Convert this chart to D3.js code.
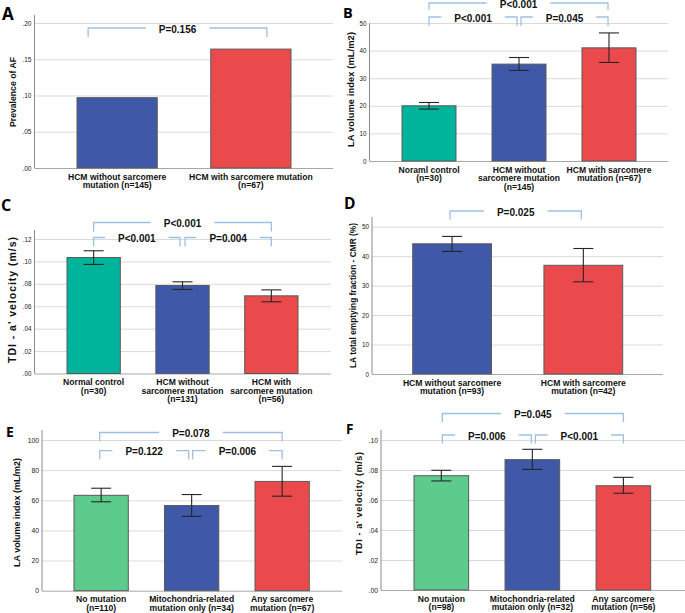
<!DOCTYPE html>
<html><head><meta charset="utf-8">
<script src="https://cdn.jsdelivr.net/npm/d3@7"></script>
<style>
html,body{margin:0;padding:0;background:#fff;}
svg{display:block;font-family:"Liberation Sans",Arial,sans-serif;}
</style></head>
<body><svg id="chart" width="685" height="613"></svg>
<script>
// ---------- DATA ----------
// Panel A
const catsA = [["HCM without sarcomere","mutation (n=145)"],["HCM with sarcomere mutation","(n=67)"]];
const valsA = [0.097, 0.164];
const ticksA = [0, 0.05, 0.10, 0.15, 0.20];
const tickLabelsA = [".00", ".05", ".10", ".15", ".20"];
const pLabelsA = ["P=0.156"];
// Panel B
const catsB = [["Noraml control","(n=30)"],["HCM without","sarcomere mutation","(n=145)"],["HCM with sarcomere","mutation (n=67)"]];
const valsB = [20.0, 35.1, 41.0];
const errLowB = [18.8, 32.8, 35.7];
const errHighB = [21.2, 37.5, 46.4];
const ticksB = [0, 10, 20, 30, 40, 50];
const tickLabelsB = ["0", "10", "20", "30", "40", "50"];
const pLabelsB = ["P<0.001", "P<0.001", "P=0.045"];
// Panel C
const catsC = [["Normal control","(n=30)"],["HCM without","sarcomere mutation","(n=131)"],["HCM with","sarcomere mutation","(n=56)"]];
const valsC = [0.1035, 0.0785, 0.0693];
const errLowC = [0.0973, 0.0750, 0.0640];
const errHighC = [0.1095, 0.0818, 0.0746];
const ticksC = [0, 0.02, 0.04, 0.06, 0.08, 0.10, 0.12];
const tickLabelsC = [".00", ".02", ".04", ".06", ".08", ".10", ".12"];
const pLabelsC = ["P<0.001", "P<0.001", "P=0.004"];
// Panel D
const catsD = [["HCM without sarcomere","mutation (n=93)"],["HCM with sarcomere","mutation (n=42)"]];
const valsD = [44.2, 36.9];
const errLowD = [41.6, 31.3];
const errHighD = [46.7, 42.6];
const ticksD = [0, 10, 20, 30, 40, 50];
const tickLabelsD = ["0", "10", "20", "30", "40", "50"];
const pLabelsD = ["P=0.025"];
// Panel E
const catsE = [["No mutation","(n=110)"],["Mitochondria-related","mutation only (n=34)"],["Any sarcomere","mutation (n=67)"]];
const valsE = [63.3, 56.5, 72.5];
const errLowE = [59.0, 49.3, 62.7];
const errHighE = [68.0, 63.8, 82.5];
const ticksE = [0, 20, 40, 60, 80, 100];
const tickLabelsE = ["0", "20", "40", "60", "80", "100"];
const pLabelsE = ["P=0.078", "P=0.122", "P=0.006"];
// Panel F
const catsF = [["No mutaion","(n=98)"],["Mitochondria-related","mutaion only (n=32)"],["Any sarcomere","mutation (n=56)"]];
const valsF = [0.0762, 0.0869, 0.0695];
const errLowF = [0.0727, 0.0804, 0.0645];
const errHighF = [0.0798, 0.0938, 0.0751];
const ticksF = [0, 0.02, 0.04, 0.06, 0.08, 0.10];
const tickLabelsF = [".00", ".02", ".04", ".06", ".08", ".10"];
const pLabelsF = ["P=0.045", "P=0.006", "P<0.001"];

// ---------- STYLE / LAYOUT ----------
const TEAL = "#00b39b", BLUE = "#3f59a8", RED = "#eb4a4c", GREEN = "#5ccb8b";
const BRACKET = "#9fc0e4";

const panels = [
  {letter:"A", lx:2, ly:20, lsize:17, cats:catsA, vals:valsA, ticks:ticksA, tl:tickLabelsA, colors:[BLUE,RED],
   left:34.5, right:333, yTop:23, yBot:168, axisTop:15, barX:[77,291], tickSize:6.5,
   title:"Prevalence of AF", tx:13, ty:92, tsize:8.6, tlen:70,
   brackets:[{i:0,j:1,y:28,drop:9,dx0:-29,dx1:16,label:pLabelsA[0]}]},
  {letter:"B", lx:343, ly:18, lsize:14.5, cats:catsB, vals:valsB, lo:errLowB, hi:errHighB, ticks:ticksB, tl:tickLabelsB, colors:[TEAL,BLUE,RED],
   left:369.5, right:668, yTop:23, yBot:161, axisTop:23, barX:[402,636], tickSize:6.3,
   title:"LA volume index (mL/m2)", tx:351, ty:89.5, tsize:9.3, tlen:115,
   brackets:[{i:0,j:2,y:3,drop:7,dx0:0,dx1:-1,label:pLabelsB[0]},
             {i:0,j:1,y:17,drop:9,dx0:0,dx1:-2,label:pLabelsB[1]},
             {i:1,j:2,y:17,drop:9,dx0:2,dx1:-1,label:pLabelsB[2]}]},
  {letter:"C", lx:1, ly:211, lsize:16, cats:catsC, vals:valsC, lo:errLowC, hi:errHighC, ticks:ticksC, tl:tickLabelsC, colors:[TEAL,BLUE,RED],
   left:34.5, right:331, yTop:239, yBot:373.5, axisTop:230, barX:[67,298], tickSize:6.3,
   title:"TDI - a' velocity (m/s)", tx:12, ty:300, tsize:10.5, tlen:126,
   brackets:[{i:0,j:2,y:222.5,drop:9,dx0:0,dx1:0,label:pLabelsC[0]},
             {i:0,j:1,y:237.5,drop:9,dx0:0,dx1:-2.5,label:pLabelsC[1]},
             {i:1,j:2,y:237.5,drop:9,dx0:2.5,dx1:0,label:pLabelsC[2]}]},
  {letter:"D", lx:344, ly:209, lsize:15.5, cats:catsD, vals:valsD, lo:errLowD, hi:errHighD, ticks:ticksD, tl:tickLabelsD, colors:[BLUE,RED],
   left:372, right:663, yTop:226.7, yBot:374, axisTop:217, barX:[412.7,622.7], tickSize:6.3,
   title:"LA total emptying fraction - CMR (%)", tx:353, ty:295.5, tsize:8.3, tlen:145,
   brackets:[{i:0,j:1,y:211,drop:8.5,dx0:-2,dx1:-2,label:pLabelsD[0]}]},
  {letter:"E", lx:6, ly:437, lsize:14, cats:catsE, vals:valsE, lo:errLowE, hi:errHighE, ticks:ticksE, tl:tickLabelsE, colors:[GREEN,BLUE,RED],
   left:42, right:342, yTop:440, yBot:590.7, axisTop:430, barX:[74,309.3], tickSize:6.8,
   title:"LA volume index (mL/m2)", tx:17, ty:512.5, tsize:9, tlen:109,
   brackets:[{i:0,j:2,y:432.5,drop:9,dx0:-1.5,dx1:0,label:pLabelsE[0]},
             {i:0,j:1,y:450.7,drop:8.5,dx0:-1.5,dx1:-3,label:pLabelsE[1]},
             {i:1,j:2,y:450.7,drop:8.5,dx0:1,dx1:0,label:pLabelsE[2]}]},
  {letter:"F", lx:346, ly:434, lsize:13.5, cats:catsF, vals:valsF, lo:errLowF, hi:errHighF, ticks:ticksF, tl:tickLabelsF, colors:[GREEN,BLUE,RED],
   left:381, right:685, yTop:440, yBot:590, axisTop:430, barX:[414,650.7], tickSize:6.8,
   title:"TDI - a' velocity  (m/s)", tx:359, ty:503.5, tsize:9, tlen:103,
   brackets:[{i:0,j:2,y:413.5,drop:8.5,dx0:1,dx1:0,label:pLabelsF[0]},
             {i:0,j:1,y:435,drop:8.5,dx0:1,dx1:-1,label:pLabelsF[1]},
             {i:1,j:2,y:435,drop:8.5,dx0:3,dx1:0,label:pLabelsF[2]}]}
];

const svg = d3.select("#chart");
svg.append("rect").attr("width",685).attr("height",613).attr("fill","#fff");

panels.forEach(p => {
  const g = svg.append("g");
  const names = p.cats.map(c => c.join(" "));
  const x = d3.scaleBand().domain(names).range(p.barX).paddingInner(0.4).paddingOuter(0);
  const yMax = p.ticks[p.ticks.length-1];
  const y = d3.scaleLinear().domain([0, yMax]).range([p.yBot, p.yTop]);
  const w = p.right - p.left;

  // gridlines
  const grid = g.append("g").attr("transform",`translate(${p.left},0)`)
    .call(d3.axisLeft(y).tickValues(p.ticks).tickSize(-w).tickFormat(""));
  grid.select(".domain").remove();
  grid.selectAll(".tick line").attr("stroke","#dadada").attr("stroke-width",1);
  grid.selectAll(".tick").filter(d => d === 0).select("line").attr("stroke","#a8a8a8");

  // left axis with tick labels
  const ax = g.append("g").attr("transform",`translate(${p.left},0)`)
    .call(d3.axisLeft(y).tickValues(p.ticks).tickSize(0).tickPadding(3)
      .tickFormat((d,i) => p.tl[i]));
  ax.select(".domain").remove();
  ax.selectAll("text").attr("font-size", p.tickSize).attr("fill","#222")
    .attr("font-family","'Liberation Sans',Arial,sans-serif");
  g.append("line").attr("x1",p.left).attr("x2",p.left).attr("y1",p.axisTop).attr("y2",p.yBot)
    .attr("stroke","#8a8a8a").attr("stroke-width",1);

  // bars
  g.selectAll("rect.bar").data(p.vals).join("rect").attr("class","bar")
    .attr("x",(d,i)=>x(names[i])).attr("width",x.bandwidth())
    .attr("y",d=>y(d)).attr("height",d=>p.yBot - y(d))
    .attr("fill",(d,i)=>p.colors[i]).attr("stroke","#5a5a5a").attr("stroke-width",1);

  // error bars
  if (p.lo) {
    const cap = 10;
    p.vals.forEach((v,i) => {
      const cx = x(names[i]) + x.bandwidth()/2;
      const eg = g.append("g").attr("stroke","#262626").attr("stroke-width",1.1);
      eg.append("line").attr("x1",cx).attr("x2",cx).attr("y1",y(p.lo[i])).attr("y2",y(p.hi[i]));
      eg.append("line").attr("x1",cx-cap).attr("x2",cx+cap).attr("y1",y(p.lo[i])).attr("y2",y(p.lo[i]));
      eg.append("line").attr("x1",cx-cap).attr("x2",cx+cap).attr("y1",y(p.hi[i])).attr("y2",y(p.hi[i]));
    });
  }

  // category labels
  p.cats.forEach((lines,i) => {
    const cx = x(names[i]) + x.bandwidth()/2;
    const t = g.append("text").attr("text-anchor","middle").attr("font-size",8.6)
      .attr("font-weight","bold").attr("fill","#111");
    lines.forEach((ln,k) => t.append("tspan").attr("x",cx).attr("y",p.yBot + 11.5 + k*8.7).text(ln));
  });

  // y title
  g.append("text").attr("transform",`translate(${p.tx},${p.ty}) rotate(-90)`)
    .attr("text-anchor","middle").attr("dominant-baseline","central")
    .attr("font-size",p.tsize).attr("font-weight","bold").attr("fill","#111")
    .attr("textLength",p.tlen).attr("lengthAdjust","spacing").text(p.title);

  // brackets
  p.brackets.forEach(b => {
    const x0 = x(names[b.i]) + x.bandwidth()/2 + b.dx0;
    const x1 = x(names[b.j]) + x.bandwidth()/2 + b.dx1;
    const mid = (x0 + x1)/2;
    const bg = g.append("g");
    const path = bg.append("path");
    const t = bg.append("text").attr("x",mid).attr("y",b.y + 1).attr("text-anchor","middle")
      .attr("dominant-baseline","central").attr("font-size",10).attr("font-weight","bold")
      .attr("fill","#111").text(b.label);
    const gap = t.node().getComputedTextLength()/2 + 13;
    path.attr("fill","none").attr("stroke",BRACKET).attr("stroke-width",1.3)
      .attr("d",`M${x0},${b.y+b.drop}L${x0},${b.y}L${mid-gap},${b.y}M${mid+gap},${b.y}L${x1},${b.y}L${x1},${b.y+b.drop}`);
  });

  // panel letter
  svg.append("text").attr("x",p.lx).attr("y",p.ly).attr("font-size",p.lsize).attr("font-weight","bold")
    .attr("font-family","'Open Sans','Liberation Sans',sans-serif").attr("fill","#000").text(p.letter);
});
</script>
</body></html>
